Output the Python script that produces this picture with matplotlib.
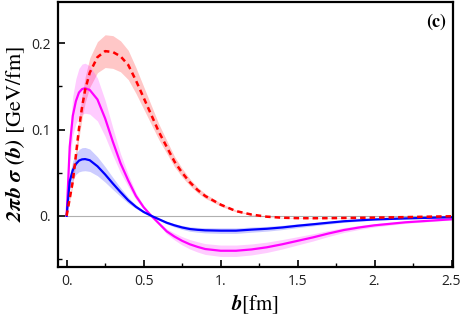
import matplotlib
matplotlib.use("Agg")
import matplotlib.pyplot as plt
from matplotlib.ticker import MultipleLocator

plt.rcParams["mathtext.fontset"] = "custom"
plt.rcParams["mathtext.bf"] = "STIXGeneral:italic:bold"
plt.rcParams["mathtext.rm"] = "STIXGeneral"
plt.rcParams["mathtext.it"] = "STIXGeneral:italic"

# impact parameter b [fm]
b = [0, 0.02, 0.04, 0.06, 0.08, 0.1, 0.12, 0.15, 0.2, 0.25, 0.3, 0.35, 0.4,
     0.45, 0.5, 0.55, 0.6, 0.65, 0.7, 0.75, 0.8, 0.85, 0.9, 1.0, 1.1, 1.2,
     1.3, 1.4, 1.5, 1.6, 1.7, 1.8, 1.9, 2.0, 2.2, 2.5]

# red dashed curve
red = [0, 0.020, 0.040, 0.070, 0.101, 0.126, 0.146, 0.166, 0.184, 0.191,
       0.190, 0.185, 0.175, 0.157, 0.137, 0.117, 0.097, 0.080, 0.063, 0.050,
       0.039, 0.030, 0.023, 0.013, 0.0055, 0.0015, -0.001, -0.0022, -0.0027,
       -0.0028, -0.0027, -0.0025, -0.0023, -0.0021, -0.0015, -0.0005]
red_err = [0, 0.003, 0.005, 0.008, 0.011, 0.013, 0.015, 0.017, 0.018, 0.019,
           0.019, 0.018, 0.017, 0.015, 0.013, 0.011, 0.009, 0.0075, 0.006,
           0.005, 0.004, 0.0033, 0.0027, 0.0018, 0.001, 0.0005, 0.0003,
           0.0003, 0.0003, 0.0003, 0.0003, 0.0003, 0.0002, 0.0002, 0.0002,
           0.0001]

# magenta curve
mag = [0, 0.080, 0.116, 0.133, 0.143, 0.147, 0.148, 0.146, 0.135, 0.113,
       0.086, 0.061, 0.041, 0.023, 0.010, 0.000, -0.009, -0.018, -0.024,
       -0.029, -0.033, -0.036, -0.0385, -0.0405, -0.0405, -0.039, -0.0365,
       -0.033, -0.029, -0.025, -0.0205, -0.0165, -0.0135, -0.011, -0.0075,
       -0.004]
mag_err = [0, 0.016, 0.023, 0.026, 0.028, 0.029, 0.029, 0.028, 0.025, 0.021,
           0.016, 0.011, 0.007, 0.004, 0.002, 0.0008, 0.0016, 0.003, 0.004,
           0.0048, 0.0055, 0.006, 0.0063, 0.0066, 0.0066, 0.0064, 0.006,
           0.0055, 0.0048, 0.0042, 0.0035, 0.0028, 0.0023, 0.0019, 0.0013,
           0.0008]

# blue curve
blue = [0, 0.040, 0.053, 0.060, 0.064, 0.0655, 0.0658, 0.0645, 0.0575, 0.048,
        0.0375, 0.0275, 0.018, 0.0105, 0.0045, 0.000, -0.004, -0.008, -0.011,
        -0.0135, -0.0153, -0.0162, -0.0168, -0.0172, -0.0172, -0.016, -0.015,
        -0.0135, -0.0115, -0.0098, -0.008, -0.0063, -0.0052, -0.0042, -0.003,
        -0.0016]
blue_err = [0, 0.008, 0.011, 0.012, 0.013, 0.0135, 0.0135, 0.013, 0.011,
            0.009, 0.007, 0.005, 0.0035, 0.002, 0.001, 0.0003, 0.001, 0.0015,
            0.0019, 0.0023, 0.0026, 0.0028, 0.003, 0.0032, 0.0032, 0.003,
            0.0028, 0.0025, 0.0022, 0.0019, 0.0016, 0.0013, 0.0011, 0.0009,
            0.0006, 0.0004]

xticks = [0, 0.5, 1.0, 1.5, 2.0, 2.5]
xticklabels = ["0.", "0.5", "1.", "1.5", "2.", "2.5"]
yticks = [0, 0.1, 0.2]
yticklabels = ["0.", "0.1", "0.2"]


def band(vals, errs, sign):
    return [v + sign * e for v, e in zip(vals, errs)]


fig = plt.figure(figsize=(4.63, 3.27), dpi=100)
ax = fig.add_axes([0.1253, 0.1844, 0.8527, 0.8095])

ax.hlines(0, b[0], b[-1], color="#b0b0b0", linewidth=0.8, zorder=1)

ax.fill_between(b, band(red, red_err, -1), band(red, red_err, 1),
                color="#ff0000", alpha=0.22, linewidth=0)
ax.fill_between(b, band(mag, mag_err, -1), band(mag, mag_err, 1),
                color="#ff00ff", alpha=0.2, linewidth=0)
ax.fill_between(b, band(blue, blue_err, -1), band(blue, blue_err, 1),
                color="#0000ff", alpha=0.2, linewidth=0)

ax.plot(b, mag, color="#ff00ff", linewidth=1.6)
ax.plot(b, blue, color="#0000ff", linewidth=1.6)
ax.plot(b, red, color="#ff0000", linewidth=1.8, linestyle=(0, (2.2, 1.6)))

ax.set_xlim(-0.056, 2.508)
ax.set_ylim(-0.059, 0.248)

ax.set_xticks(xticks)
ax.set_xticklabels(xticklabels)
ax.set_yticks(yticks)
ax.set_yticklabels(yticklabels)
ax.xaxis.set_minor_locator(MultipleLocator(0.25))
ax.yaxis.set_minor_locator(MultipleLocator(0.05))
ax.tick_params(which="both", direction="in", top=False, right=False,
               labelsize=10, labelcolor="#222222", pad=5)
ax.tick_params(which="major", length=5, width=1.2)
ax.tick_params(which="minor", length=3, width=1.0)
for lab in ax.get_xticklabels() + ax.get_yticklabels():
    lab.set_family("Open Sans")

for spine in ax.spines.values():
    spine.set_linewidth(1.6)

ax.set_xlabel(r"$\mathbf{b}\mathrm{[fm]}$", fontsize=15, labelpad=3)
ax.set_ylabel(r"$\mathbf{2\pi b\ \sigma\ (b)\ }\mathrm{[GeV/fm]}$",
              fontsize=16, labelpad=3)

ax.text(0.957, 0.924, "(c)", transform=ax.transAxes, fontsize=13,
        fontweight="bold", family="STIXGeneral", ha="center", va="center")

fig.savefig("out.png", dpi=100)
